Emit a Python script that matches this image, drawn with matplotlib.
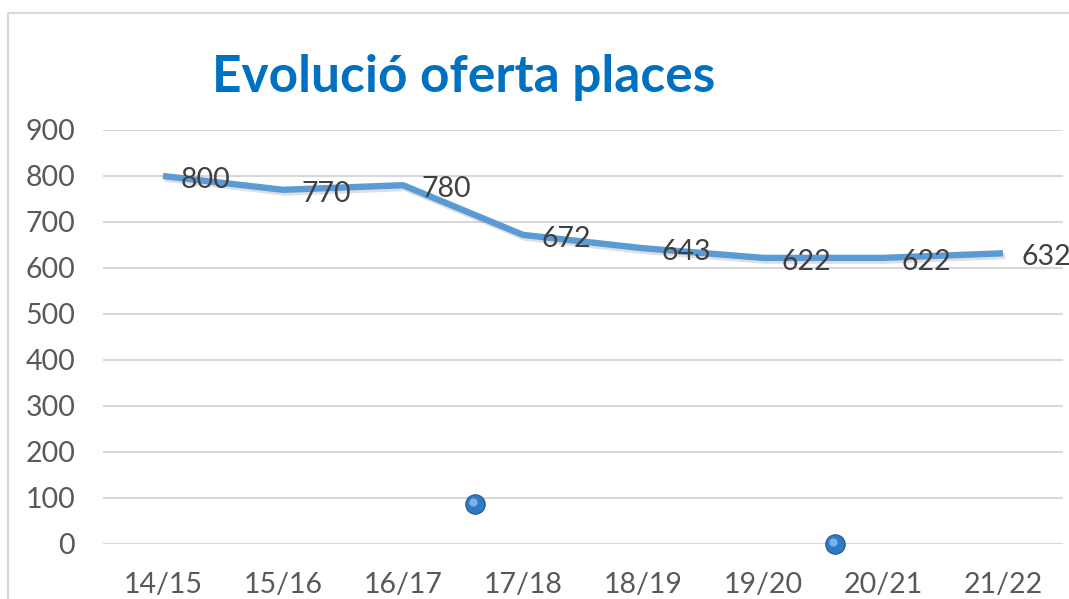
import matplotlib.pyplot as plt
import matplotlib.patheffects as pe
from matplotlib.lines import Line2D

# data
cursos = ['14/15', '15/16', '16/17', '17/18', '18/19', '19/20', '20/21', '21/22']
places = [800, 770, 780, 672, 643, 622, 622, 632]
# two stray points floating in the plot area (x in category units)
punts_x = [2.6, 5.6]
punts_y = [88, 0]

plt.rcParams['font.family'] = ['Lato', 'DejaVu Sans']

fig = plt.figure(figsize=(10.69, 5.99), dpi=100)
ax = fig.add_axes([103/1069, 1 - 544/599, 960/1069, 414/599])

x = list(range(len(cursos)))
ax.plot(x, places, color='#5B9BD5', lw=4.6, solid_capstyle='butt', zorder=3,
        path_effects=[pe.SimpleLineShadow(offset=(1.5, -2), shadow_color='#808080', alpha=0.25),
                      pe.Normal()])

for xi, v in zip(x, places):
    ax.annotate(str(v), (xi, v), xytext=(13, -3), textcoords='offset points',
                ha='left', va='center', fontsize=20.5, color='#404040', zorder=4)

# blue spheres
ax.plot(punts_x, punts_y, 'o', ms=14, color='#2F7AC2', mec='#1F5A94', mew=0.8,
        clip_on=False, zorder=5)
ax.plot([p - 0.015 for p in punts_x], [p + 4 for p in punts_y], 'o', ms=6,
        color='#8CC2F0', mew=0, alpha=0.8, clip_on=False, zorder=6)

ax.set_xlim(-0.5, len(cursos) - 0.5)
ax.set_ylim(0, 900)
ax.set_yticks(range(0, 901, 100))
ax.set_xticks(x)
ax.set_xticklabels(cursos)
ax.grid(axis='y', color='#D9D9D9', lw=1.5)
ax.set_axisbelow(True)
for s in ax.spines.values():
    s.set_visible(False)
ax.tick_params(length=0, labelsize=20.5, labelcolor='#595959')
ax.tick_params(axis='y', pad=20)
ax.tick_params(axis='x', pad=20)
for lbl in ax.get_yticklabels():
    lbl.set_ha('right')

fig.text(0.434, 0.87, 'Evolució oferta places', fontsize=37, fontweight='bold',
         color='#0070C0', ha='center', va='center')

# chart frame (left and top edges visible)
fig.add_artist(Line2D([8/1069, 8/1069], [0, 1 - 13/599], transform=fig.transFigure,
                      color='#D9D9D9', lw=1.5))
fig.add_artist(Line2D([8/1069, 1], [1 - 13/599, 1 - 13/599], transform=fig.transFigure,
                      color='#D9D9D9', lw=1.5))

fig.savefig('out.png', dpi=100)
